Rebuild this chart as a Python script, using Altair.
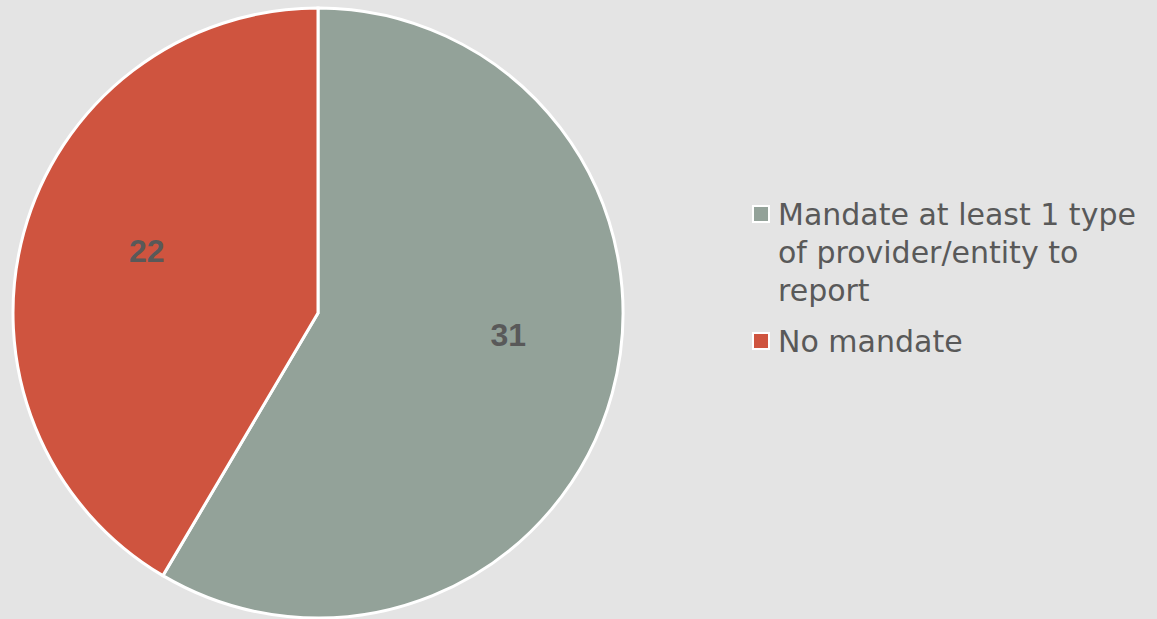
import altair as alt
import pandas as pd

categories = ["Mandate at least 1 type of provider/entity to report", "No mandate"]
values = [31, 22]
colors = ["#93A299", "#CF543F"]
legend_lines = [["Mandate at least 1 type", "of provider/entity to", "report"], ["No mandate"]]

df = pd.DataFrame({"category": categories, "value": values, "order": [0, 1]})
leg = pd.DataFrame({"category": categories, "lines": legend_lines, "row": [0, 1]})

CX, CY, R = 318, 313, 305
TOTAL = sum(values)

color_scale = alt.Scale(domain=categories, range=colors)

pie = alt.Chart(df).mark_arc(outerRadius=R, stroke="white", strokeWidth=3).encode(
    theta=alt.Theta("value:Q", stack=True),
    order=alt.Order("order:Q"),
    color=alt.Color("category:N", scale=color_scale, legend=None),
    x=alt.value(CX), y=alt.value(CY),
)

lab_base = alt.Chart(df).transform_stack(
    stack="value", groupby=[], as_=["s", "e"], sort=[alt.SortField("order")]
).transform_calculate(mid="(datum.s + datum.e) / 2")

def lab(cat, dx, dy):
    return lab_base.transform_filter(alt.datum.category == cat).mark_text(
        radius=190, font="Liberation Sans", fontWeight="bold", fontSize=32,
        color="#595959", dx=dx, dy=dy,
    ).encode(
        theta=alt.Theta("mid:Q", stack=None, scale=alt.Scale(domain=[0, TOTAL], range=[0, 6.283185307179586])),
        text="value:Q", x=alt.value(CX), y=alt.value(CY),
    )

lab_g = lab(categories[0], 7, -27)
lab_r = lab(categories[1], 12, -11)

leg_y = alt.Y("row:Q", scale=alt.Scale(domain=[0, 1], range=[214, 341]), axis=None)
sq = alt.Chart(leg).mark_square(size=256, stroke="white", strokeWidth=2, strokeOpacity=1, opacity=1).encode(
    x=alt.value(761), y=leg_y,
    color=alt.Color("category:N", scale=color_scale, legend=None),
)
txt = alt.Chart(leg).mark_text(
    align="left", baseline="alphabetic", font="DejaVu Sans", fontSize=30, color="#595959",
    lineHeight=38, dy=11,
).encode(x=alt.value(778), y=leg_y, text="lines")

chart = alt.layer(pie, lab_g, lab_r, sq, txt).properties(
    width=1157, height=619, background="#E4E4E4", padding=0,
    autosize=alt.AutoSizeParams(type="none"),
).configure_view(stroke=None)

chart.save("out.html", embed_options={"renderer": "svg", "actions": False})
